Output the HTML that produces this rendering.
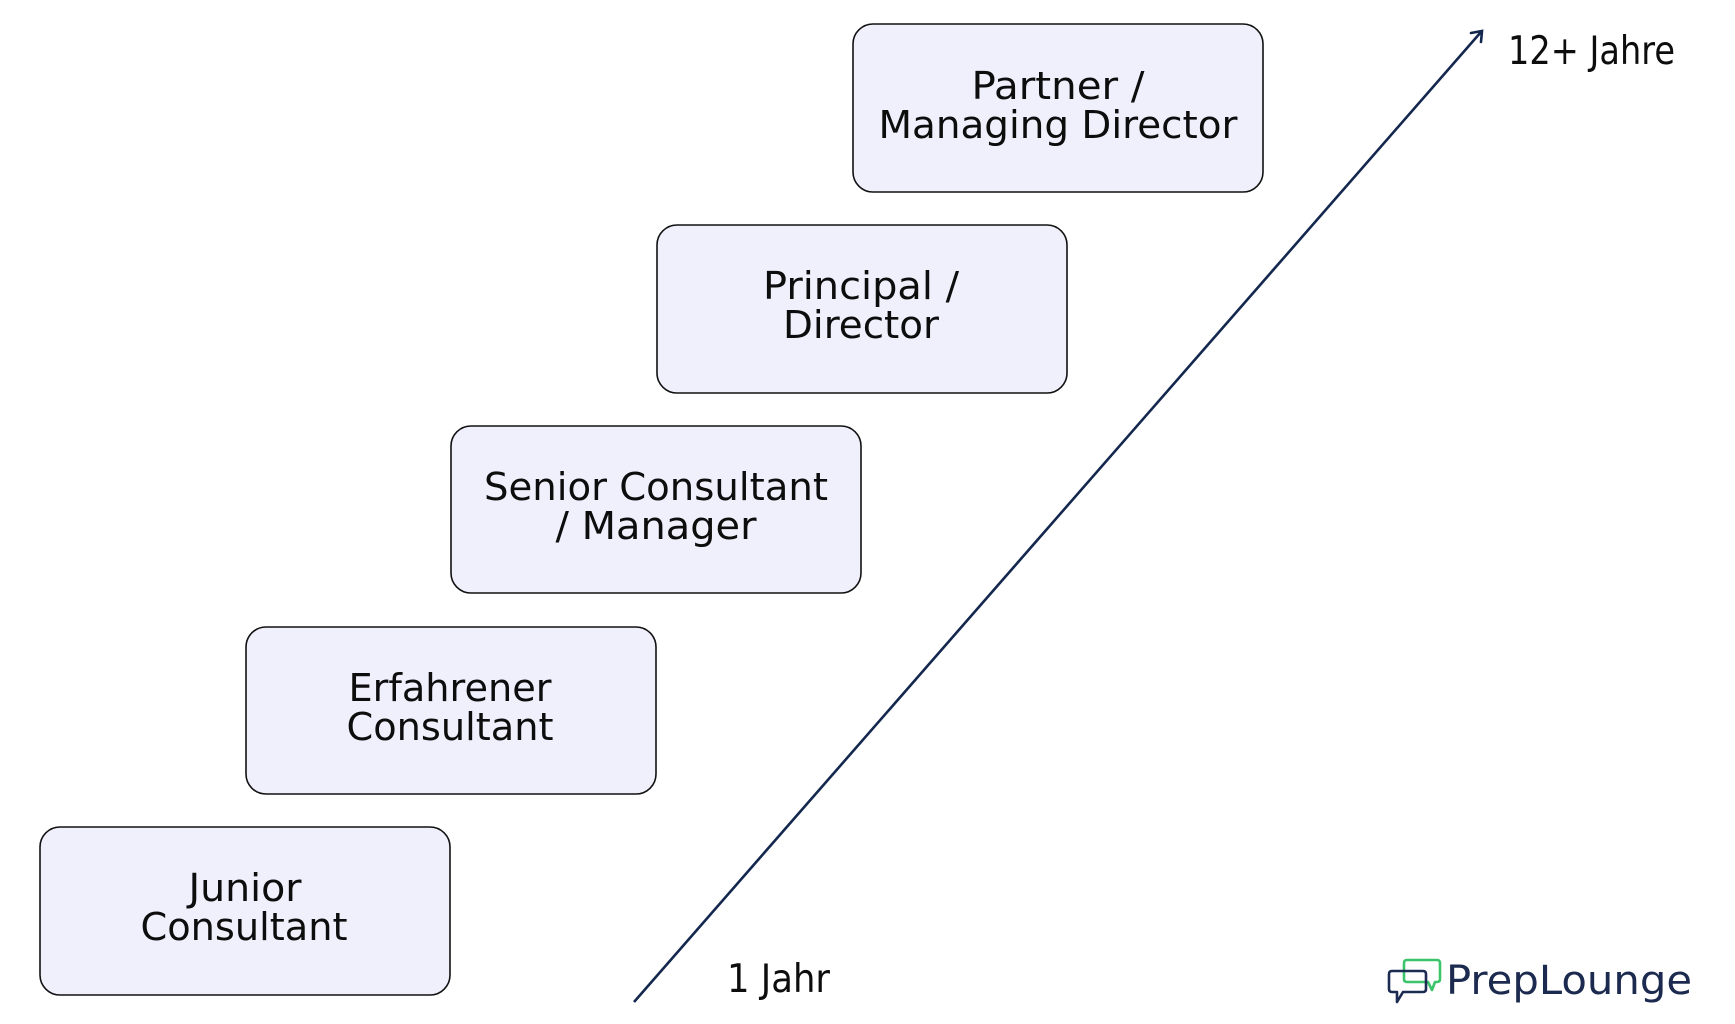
<!DOCTYPE html>
<html>
<head>
<meta charset="utf-8">
<style>
  html, body { margin: 0; padding: 0; background: #ffffff; }
  svg { display: block; }
  .box { fill: #f0effc; stroke: #111111; stroke-width: 1.6; }
  .t { font-family: "DejaVu Sans", "Liberation Sans", sans-serif; font-size: 38px; fill: #0d0d0d; text-anchor: middle; }
  .l { font-family: "DejaVu Sans", "Liberation Sans", sans-serif; font-size: 39px; fill: #0d0d0d; }
</style>
</head>
<body>
<svg width="1735" height="1024" viewBox="0 0 1735 1024" xmlns="http://www.w3.org/2000/svg">
  <rect x="0" y="0" width="1735" height="1024" fill="#ffffff"/>

  <!-- Boxes -->
  <rect class="box" x="40" y="827" width="410" height="168" rx="20" ry="20"/>
  <rect class="box" x="246" y="627" width="410" height="167" rx="20" ry="20"/>
  <rect class="box" x="451" y="426" width="410" height="167" rx="20" ry="20"/>
  <rect class="box" x="657" y="225" width="410" height="168" rx="20" ry="20"/>
  <rect class="box" x="853" y="24" width="410" height="168" rx="20" ry="20"/>

  <!-- Box labels -->
  <text class="t" x="245" y="901" textLength="113" lengthAdjust="spacingAndGlyphs">Junior</text>
  <text class="t" x="244" y="940" textLength="207" lengthAdjust="spacingAndGlyphs">Consultant</text>

  <text class="t" x="450" y="701" textLength="203" lengthAdjust="spacingAndGlyphs">Erfahrener</text>
  <text class="t" x="450" y="740" textLength="207" lengthAdjust="spacingAndGlyphs">Consultant</text>

  <text class="t" x="656" y="500" textLength="344" lengthAdjust="spacingAndGlyphs">Senior Consultant</text>
  <text class="t" x="656" y="539" textLength="201" lengthAdjust="spacingAndGlyphs">/ Manager</text>

  <text class="t" x="861" y="299" textLength="196" lengthAdjust="spacingAndGlyphs">Principal /</text>
  <text class="t" x="861" y="338" textLength="156" lengthAdjust="spacingAndGlyphs">Director</text>

  <text class="t" x="1058" y="99" textLength="173" lengthAdjust="spacingAndGlyphs">Partner /</text>
  <text class="t" x="1058" y="138" textLength="359" lengthAdjust="spacingAndGlyphs">Managing Director</text>

  <!-- Timeline arrow -->
  <line x1="634" y1="1002" x2="1481" y2="32" stroke="#14274e" stroke-width="2.6" stroke-linecap="butt"/>
  <polyline points="1471,33 1482,31 1481,42" fill="none" stroke="#14274e" stroke-width="2.6" stroke-linejoin="miter" stroke-linecap="round"/>

  <!-- Axis labels -->
  <text class="l" x="727" y="992" textLength="103" lengthAdjust="spacingAndGlyphs">1 Jahr</text>
  <text class="l" x="1508" y="64" textLength="167" lengthAdjust="spacingAndGlyphs">12+ Jahre</text>

  <!-- PrepLounge logo -->
  <g fill="none" stroke-width="2.6" stroke-linejoin="round">
    <!-- green bubble (back) -->
    <path d="M1407,960 H1437 Q1440,960 1440,963 V979 Q1440,982 1437,982 H1435 L1432,990 L1428,982 H1407 Q1404,982 1404,979 V963 Q1404,960 1407,960 Z" stroke="#3cc46a"/>
    <!-- navy bubble (front) -->
    <path d="M1392,971 H1423 Q1426,971 1426,974 V989 Q1426,992 1423,992 H1403 L1397,1002 L1397,992 H1392 Q1389,992 1389,989 V974 Q1389,971 1392,971 Z" stroke="#1c2b52"/>
  </g>
  <text x="1446" y="994" textLength="246" lengthAdjust="spacingAndGlyphs" style="font-family: 'DejaVu Sans', 'Liberation Sans', sans-serif; font-size: 40px; fill: #1b2a4e;">PrepLounge</text>
</svg>
</body>
</html>
